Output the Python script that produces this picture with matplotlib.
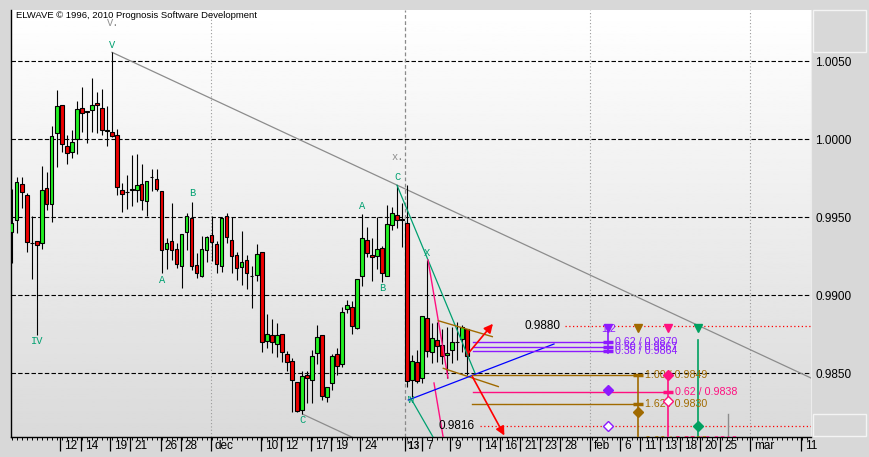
import numpy as np
import matplotlib.pyplot as plt
from matplotlib.patches import Rectangle, FancyArrowPatch
from matplotlib.transforms import offset_copy

plt.rcParams['font.family'] = ['Liberation Sans', 'DejaVu Sans']

# 12h candles, nov 2012 .. 11 jan 2013
opens = [0.99407, 0.99480, 0.99712, 0.99642, 0.99331, 0.99347, 0.99332, 0.99685, 0.99582, 1.00037,
         1.00216, 0.99954, 0.99915, 1.00000, 1.00197, 1.00182, 1.00184, 1.00231, 1.00197, 1.00052,
         1.00043, 1.00028, 0.99672, 0.99663, 0.99678, 0.99672, 0.99710, 0.99601, 0.99755, 0.99742,
         0.99665, 0.99298, 0.99347, 0.99294, 0.99189, 0.99407, 0.99492, 0.99191, 0.99125, 0.99287,
         0.99385, 0.99326, 0.99189, 0.99505, 0.99352, 0.99255, 0.99178, 0.99223, 0.99125, 0.99127,
         0.99275, 0.98705, 0.98743, 0.98685, 0.98749, 0.98621, 0.98580, 0.98442, 0.98264, 0.98487,
         0.98455, 0.98630, 0.98743, 0.98346, 0.98435, 0.98621, 0.98557, 0.98909, 0.98922, 0.98788,
         0.99121, 0.99352, 0.99255, 0.99249, 0.99300, 0.99125, 0.99448, 0.99512, 0.99486, 0.99460,
         0.98457, 0.98570, 0.98467, 0.98852, 0.98634, 0.98711, 0.98679, 0.98617, 0.98649, 0.98697,
         0.98719, 0.98781]
highs = [0.99680, 0.99759, 0.99759, 0.99653, 0.99509, 0.99350, 0.99827, 0.99787, 1.00084, 1.00314,
         1.00218, 1.00024, 1.00058, 1.00244, 1.00333, 1.00183, 1.00391, 1.00300, 1.00321, 1.00212,
         1.00556, 1.00062, 0.99717, 0.99770, 0.99898, 0.99904, 0.99838, 0.99729, 0.99810, 0.99810,
         0.99667, 0.99366, 0.99589, 0.99332, 0.99390, 0.99524, 0.99597, 0.99270, 0.99379, 0.99379,
         0.99507, 0.99347, 0.99499, 0.99526, 0.99503, 0.99277, 0.99411, 0.99255, 0.99185, 0.99326,
         0.99277, 0.98879, 0.98845, 0.98820, 0.98751, 0.98644, 0.98596, 0.98444, 0.98512, 0.98514,
         0.98649, 0.98809, 0.98745, 0.98414, 0.98621, 0.98660, 0.98922, 0.98969, 0.98961, 0.99102,
         0.99518, 0.99435, 0.99364, 0.99503, 0.99313, 0.99578, 0.99563, 0.99704, 0.99589, 0.99706,
         0.98617, 0.98649, 0.98867, 0.99225, 0.98820, 0.98830, 0.98781, 0.98798, 0.98798, 0.98830,
         0.98809, 0.98783]
lows = [0.99208, 0.99400, 0.99560, 0.99275, 0.99102, 0.98745, 0.99294, 0.99546, 0.99471, 0.99819,
        0.99919, 0.99842, 0.99881, 0.99902, 1.00047, 0.99973, 1.00047, 1.00041, 1.00026, 0.99958,
        1.00015, 0.99640, 0.99531, 0.99550, 0.99573, 0.99597, 0.99547, 0.99509, 0.99669, 0.99667,
        0.99140, 0.99170, 0.99225, 0.99172, 0.99048, 0.99289, 0.99161, 0.99112, 0.99118, 0.99211,
        0.99221, 0.99140, 0.99150, 0.99332, 0.99140, 0.99097, 0.99067, 0.99041, 0.98920, 0.99093,
        0.98638, 0.98660, 0.98631, 0.98606, 0.98570, 0.98516, 0.98253, 0.98253, 0.98237, 0.98307,
        0.98307, 0.98557, 0.98328, 0.98318, 0.98392, 0.98489, 0.98541, 0.98886, 0.98749, 0.98781,
        0.99059, 0.99243, 0.99093, 0.99166, 0.99082, 0.99121, 0.99417, 0.99428, 0.99311, 0.98414,
        0.98350, 0.98435, 0.98435, 0.98602, 0.98567, 0.98574, 0.98557, 0.98467, 0.98563, 0.98585,
        0.98638, 0.98489]
closes = [0.99464, 0.99723, 0.99659, 0.99339, 0.99334, 0.99319, 0.99672, 0.99584, 1.00018, 1.00210,
          0.99967, 0.99909, 0.99979, 1.00191, 1.00165, 1.00171, 1.00216, 1.00216, 1.00056, 1.00055,
          1.00022, 0.99691, 0.99646, 0.99659, 0.99674, 0.99704, 0.99608, 0.99729, 0.99755, 0.99678,
          0.99287, 0.99334, 0.99287, 0.99198, 0.99390, 0.99505, 0.99189, 0.99140, 0.99296, 0.99373,
          0.99339, 0.99198, 0.99492, 0.99371, 0.99249, 0.99172, 0.99211, 0.99140, 0.99121, 0.99262,
          0.98698, 0.98749, 0.98698, 0.98743, 0.98634, 0.98574, 0.98455, 0.98256, 0.98480, 0.98467,
          0.98608, 0.98730, 0.98354, 0.98414, 0.98608, 0.98544, 0.98890, 0.98935, 0.98801, 0.99102,
          0.99364, 0.99268, 0.99243, 0.99294, 0.99140, 0.99454, 0.99524, 0.99480, 0.99484, 0.98452,
          0.98580, 0.98452, 0.98867, 0.98644, 0.98724, 0.98676, 0.98612, 0.98630, 0.98700, 0.98699,
          0.98794, 0.98612]

# date axis (in bar units)
tick_pos = [9.7, 13.8, 19.7, 23.7, 29.8, 33.8, 39.8, 49.8, 53.8, 59.8, 63.8, 69.7, 78.7, 82.1,
            87.7, 93.7, 97.7, 101.7, 105.7, 109.7, 115.7, 121.7, 125.7, 129.7, 133.7, 137.7,
            141.7, 147.7, 157.9]
tick_lbl = ['12', '14', '19', '21', '26', '28', 'dec', '10', '12', '17', '19', '24', "'13", '7',
            '9', '14', '16', '21', '23', '28', 'feb', '6', '11', '13', '18', '20', '25', 'mar', '11']
month_lines = [39.8, 115.7, 147.7]
year_line = 78.7
price_ticks = [0.985, 0.990, 0.995, 1.000, 1.005]

# elliott wave labels
wave_x = [20.06, 5.06, 30.12, 36.2, 58.2, 70.06, 74.06, 77.2, 83.0, 79.86]
wave_y = [1.00602, 0.98706, 0.99097, 0.99653, 0.98200, 0.99573, 0.99044, 0.99755, 0.99273, 0.98328]
wave_txt = ['V', 'IV', 'A', 'B', 'C', 'A', 'B', 'C', 'X', 'W']
alt_x = [20.3, 77.12]
alt_y = [1.00743, 0.99887]
alt_txt = ['V.', 'x.']

# projections
targets = [0.9880, 0.9816]
fib_purple = [0.9870, 0.9867, 0.9864]
fib_purple_lbl = ['0.62 / 0.9870', '0.50 / 0.9867', '0.38 / 0.9864']
fib_brown = [0.9849, 0.9830]
fib_brown_lbl = ['1.00 / 0.9849', '1.62 / 0.9830']
fib_pink = [0.9838]
fib_pink_lbl = ['0.62 / 0.9838']

teal = '#00a070'
purple = '#8c1aff'
brown = '#a06a00'
pink = '#ff1080'
green = '#00a060'

fig = plt.figure(figsize=(8.7, 4.57), dpi=100, facecolor='#d8d8d8')
ax = fig.add_axes([11/870, 20/457, 800/870, 427/457])
x0, x1 = -0.14, 159.86
y0, y1 = 0.98091, 1.00827
grad = np.linspace(1.0, 0.855, 256).reshape(-1, 1)
ax.imshow(grad, cmap='gray', vmin=0, vmax=1, aspect='auto',
          extent=[x0, x1, y0, y1], origin='upper', zorder=0)
ax.set_xlim(x0, x1)
ax.set_ylim(y0, y1)

for p in price_ticks:
    ax.axhline(p, color='k', lw=0.8, ls=(0, (4, 2)), zorder=1)
for v in month_lines:
    ax.axvline(v, color='#9a9a9a', lw=0.8, ls=(0, (1, 2)), zorder=1)
ax.axvline(year_line, color='#8a8a8a', lw=0.9, ls=(0, (3, 2)), zorder=1)

# candles
idx = np.arange(len(opens))
o = np.array(opens)
c = np.array(closes)
cols = np.where(c > o, '#22f022', np.where(c < o, '#ee0000', 'black'))
ax.vlines(idx, lows, highs, color='k', lw=0.8, zorder=3)
ax.bar(idx, np.maximum(np.abs(c - o), 0.00003), bottom=np.minimum(o, c), width=0.72,
       color=cols, edgecolor='k', linewidth=0.8, zorder=4)

# trend lines
ax.plot([20.06, 159.86], [1.00556, 0.98469], color='#8c8c8c', lw=0.9, zorder=2)
ax.plot([58.2, 70.0], [0.98237, 0.98061], color='#8c8c8c', lw=0.9, zorder=2)
ax.plot([77.06, 92.66], [0.99704, 0.98500], color=teal, lw=0.9, zorder=5)
ax.plot([79.66, 85.0], [0.98348, 0.98050], color=teal, lw=0.9, zorder=5)
ax.plot([83.26, 87.26], [0.99225, 0.98469], color=pink, lw=1.0, zorder=5)
ax.plot([84.46, 86.4], [0.98437, 0.98070], color=pink, lw=1.0, zorder=5)
ax.plot([85.32, 96.12], [0.98836, 0.98734], color=brown, lw=1.0, zorder=5)
ax.plot([86.32, 97.32], [0.98531, 0.98414], color=brown, lw=1.0, zorder=5)
ax.plot([79.32, 108.46], [0.98328, 0.98687], color='#0000ff', lw=0.9, zorder=5)

for a, b in [((91.0, 0.98615), (96.6, 0.98830)), ((91.86, 0.98494), (98.8, 0.98085))]:
    ax.add_patch(FancyArrowPatch(a, b, arrowstyle='-|>', mutation_scale=13,
                                 color='#ff0000', lw=1.2, zorder=6))

# target levels
ax.plot([110.7, x1], [targets[0]] * 2, color='#ff0000', lw=0.9, ls=(0, (1, 2)), zorder=5)
ax.plot([93.66, x1], [targets[1]] * 2, color='#ff0000', lw=0.9, ls=(0, (1, 2)), zorder=5)
ax.text(109.7, targets[0], '%.4f' % targets[0], ha='right', va='center', fontsize=8.5, zorder=6)
ax.text(92.5, targets[1], '%.4f' % targets[1], ha='right', va='center', fontsize=8.5, zorder=6)

for p, t in zip(fib_purple, fib_purple_lbl):
    ax.plot([92.3, 119.3], [p, p], color=purple, lw=1.0, zorder=5)
    ax.plot(119.3, p, '_', color=purple, ms=7, mew=2.5, zorder=6)
    ax.text(120.7, p, t, color=purple, fontsize=7.7, va='center', zorder=6)
for p, t in zip(fib_brown, fib_brown_lbl):
    ax.plot([92.1, 125.3], [p, p], color=brown, lw=1.0, zorder=5)
    ax.plot(125.3, p, '_', color=brown, ms=7, mew=2.5, zorder=6)
    ax.text(126.7, p, t, color=brown, fontsize=7.7, va='center', zorder=6)
for p, t in zip(fib_pink, fib_pink_lbl):
    ax.plot([92.3, 131.3], [p, p], color=pink, lw=1.0, zorder=5)
    ax.plot(131.3, p, '_', color=pink, ms=7, mew=2.5, zorder=6)
    ax.text(132.7, p, t, color=pink, fontsize=7.7, va='center', zorder=6)
ax.text(126.7, 0.98064, '0.00 / 0.9808', color=brown, fontsize=7.7, va='center', zorder=6, clip_on=True)
ax.text(132.7, 0.98064, '0.38 / 0.9812', color=pink, fontsize=7.7, va='center', zorder=6, clip_on=True)

# projection verticals and markers
ax.plot([119.3, 119.3], [0.9880, 0.98628], color=purple, lw=1.2, zorder=5)
ax.plot([125.3, 125.3], [0.9849, y0], color=brown, lw=1.2, zorder=5)
ax.plot([131.3, 131.3], [0.9849, y0], color=pink, lw=1.2, zorder=5)
ax.plot([137.3, 137.3], [0.98713, y0], color=green, lw=1.2, zorder=5)
ax.plot([143.3, 143.3], [0.98239, y0], color='#8c8c8c', lw=1.0, zorder=5)
for xv, col in [(119.3, purple), (125.3, brown), (131.3, pink), (137.3, green)]:
    ax.plot(xv, 0.98792, 'v', color=col, ms=6, zorder=7)
ax.text(119.3, 0.98785, '1.2', color=purple, fontsize=7.7, ha='center', va='center', zorder=7)
ax.plot(119.3, 0.98392, 'D', color=purple, ms=5.5, zorder=7)
ax.plot(119.3, 0.9816, 'D', mfc='white', mec=purple, ms=5.5, zorder=7)
ax.plot(125.3, 0.98253, 'D', color=brown, ms=5.5, zorder=7)
ax.plot(131.3, 0.9849, 'D', color=pink, ms=5.5, zorder=7)
ax.plot(131.3, 0.98322, 'D', mfc='white', mec=pink, ms=5.5, zorder=7)
ax.plot(137.3, 0.9816, 'D', color=green, ms=5.5, zorder=7)

# wave labels
for xv, yv, t in zip(wave_x, wave_y, wave_txt):
    ax.text(xv, yv, t, color=teal, fontsize=7.5, family='Liberation Mono',
            ha='center', va='center', zorder=7)
for xv, yv, t in zip(alt_x, alt_y, alt_txt):
    ax.text(xv, yv, t, color='#8c8c8c', fontsize=7.5, family='Liberation Mono',
            ha='center', va='center', zorder=7)

# axes styling
ax.yaxis.tick_right()
ax.set_yticks(price_ticks)
ax.set_yticklabels(['%.4f' % p for p in price_ticks])
ax.tick_params(axis='y', length=0, pad=3, labelsize=8.5)
ax.set_xticks(tick_pos)
ax.set_xticklabels([])
ax.set_xticks(np.arange(0, 160), minor=True)
ax.tick_params(axis='x', which='major', length=10, width=0.9, color='k')
ax.tick_params(axis='x', which='minor', length=1.8, width=0.7, color='k')
trans = offset_copy(ax.get_xaxis_transform(), fig=fig, x=3, y=0, units='points')
trans_yr = offset_copy(ax.get_xaxis_transform(), fig=fig, x=1, y=0, units='points')
for xv, t in zip(tick_pos, tick_lbl):
    if t == "'13":
        ax.text(xv, -0.021, t, transform=trans_yr, ha='left', va='center', fontsize=7,
                fontweight='bold', clip_on=False)
    else:
        ax.text(xv, -0.021, t, transform=trans, ha='left', va='center', fontsize=8.5,
                clip_on=False)
ax.spines['top'].set_visible(False)
ax.spines['right'].set_color('#ececec')
ax.spines['left'].set_linewidth(1.0)
ax.spines['bottom'].set_linewidth(1.0)

fig.text(16/870, 1 - 16/457, 'ELWAVE \u00a9 1996, 2010 Prognosis Software Development',
         fontsize=6.8, ha='left', va='center')
fig.add_artist(Rectangle((813/870, 1 - 52/457), 53/870, 42/457, transform=fig.transFigure,
                         fill=False, edgecolor='#f4f4f4', lw=1))
fig.add_artist(Rectangle((813/870, 1 - 436/457), 53/870, 22/457, transform=fig.transFigure,
                         fill=False, edgecolor='#f4f4f4', lw=1))

plt.savefig('out.png', dpi=100, facecolor=fig.get_facecolor())
